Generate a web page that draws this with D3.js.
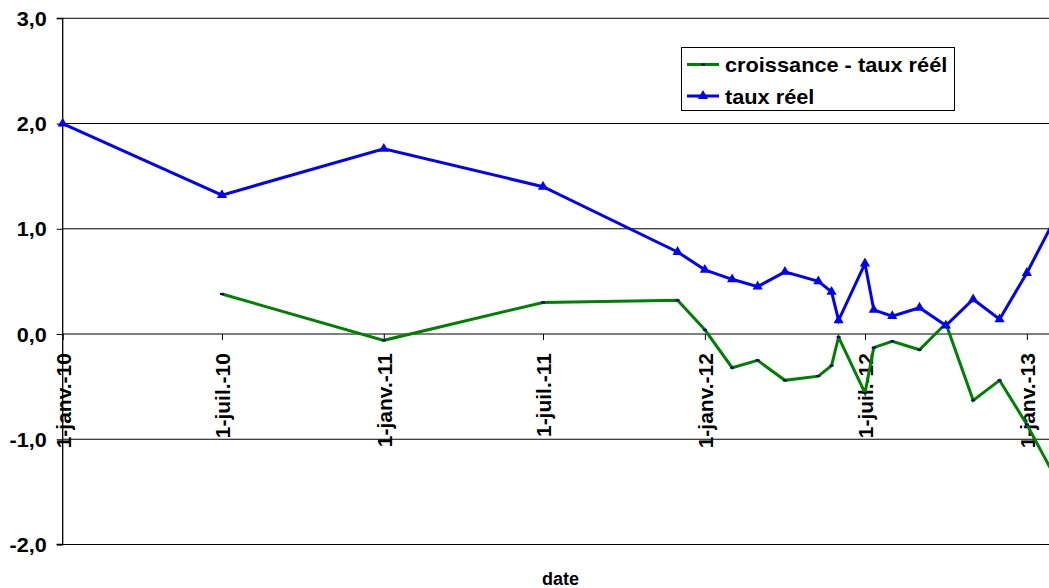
<!DOCTYPE html>
<html>
<head>
<meta charset="utf-8">
<script src="https://cdn.jsdelivr.net/npm/d3@7"></script>
<style>
  html, body { margin: 0; padding: 0; background: #fff; }
  svg { display: block; font-family: Arial, "Liberation Sans", sans-serif; }
</style>
</head>
<body>
<svg id="chart" width="1049" height="588"></svg>
<script>
// ---- data ----
const reelDates = ["2010-01-01","2010-07-01","2011-01-01","2011-07-01","2011-12-01","2012-01-01","2012-02-01","2012-03-01","2012-04-01","2012-05-09","2012-05-24","2012-06-01","2012-07-01","2012-07-11","2012-08-01","2012-09-01","2012-10-01","2012-11-01","2012-12-01","2013-01-01","2013-02-01"];
const reelValues = [2.00, 1.32, 1.76, 1.40, 0.78, 0.61, 0.52, 0.45, 0.59, 0.50, 0.40, 0.13, 0.67, 0.23, 0.17, 0.25, 0.08, 0.33, 0.14, 0.58, 1.08];

const croissDates = ["2010-07-01","2011-01-01","2011-07-01","2011-12-01","2012-01-01","2012-02-01","2012-03-01","2012-04-01","2012-05-09","2012-05-24","2012-06-01","2012-07-01","2012-07-11","2012-08-01","2012-09-01","2012-10-01","2012-11-01","2012-12-01","2013-01-01","2013-02-01"];
const croissValues = [0.38, -0.06, 0.30, 0.32, 0.04, -0.32, -0.25, -0.44, -0.40, -0.30, -0.03, -0.56, -0.13, -0.07, -0.15, 0.10, -0.63, -0.44, -0.86, -1.34];

const xTickDates = ["2010-01-01","2010-07-01","2011-01-01","2011-07-01","2012-01-01","2012-07-01","2013-01-01"];
const xTickLabels = ["1-janv.-10","1-juil.-10","1-janv.-11","1-juil.-11","1-janv.-12","1-juil.-12","1-janv.-13"];
const yTicks = [-2, -1, 0, 1, 2, 3];
const yTickLabels = ["-2,0","-1,0","0,0","1,0","2,0","3,0"];
const seriesNames = ["croissance - taux réél", "taux réel"];
const xDomain = ["2010-01-01", "2013-02-06"];

// ---- setup ----
const parse = d3.utcParse("%Y-%m-%d");
const svg = d3.select("#chart");
const mLeft = 62.7, mRight = 1058.5, mTop = 18.3, mBottom = 544.5;

const x = d3.scaleUtc().domain(xDomain.map(parse)).range([mLeft, mRight]);
const y = d3.scaleLinear().domain([-2, 3]).range([mBottom, mTop]);

const reel = reelDates.map((d, i) => ({ date: parse(d), v: reelValues[i] }));
const croiss = croissDates.map((d, i) => ({ date: parse(d), v: croissValues[i] }));

// gridlines
svg.append("g").selectAll("line").data(yTicks).join("line")
  .attr("x1", mLeft).attr("x2", mRight)
  .attr("y1", d => y(d)).attr("y2", d => y(d))
  .attr("stroke", "#000").attr("stroke-width", 1);

// y axis
const yAxis = d3.axisLeft(y).tickValues(yTicks).tickSize(6)
  .tickFormat((d, i) => yTickLabels[i]);
const gy = svg.append("g").attr("transform", `translate(${mLeft},0)`).call(yAxis);
gy.select(".domain").attr("stroke", "#000").attr("stroke-width", 1.3).attr("d", `M-6,${mTop}H0V${mBottom}H-6`);
gy.selectAll(".tick line").attr("stroke", "#000");
gy.selectAll(".tick text")
  .attr("x", -16).attr("dy", "0.36em")
  .attr("font-size", 20).attr("font-weight", "bold").attr("fill", "#000")
  .attr("font-family", "Arial, 'Liberation Sans', sans-serif")
  .each(function () {
    const w = this.getComputedTextLength();
    d3.select(this).attr("textLength", w * 1.08).attr("lengthAdjust", "spacingAndGlyphs");
  });

// x axis at y=0
const xAxis = d3.axisBottom(x).tickValues(xTickDates.map(parse)).tickSize(6)
  .tickFormat((d, i) => xTickLabels[i]);
const gx = svg.append("g").attr("transform", `translate(0,${y(0)})`).call(xAxis);
gx.select(".domain").remove();
gx.selectAll(".tick line").attr("stroke", "#000");
gx.selectAll(".tick text")
  .attr("transform", "rotate(-90)")
  .attr("text-anchor", "end")
  .attr("x", -19).attr("y", 0).attr("dy", "0.36em")
  .attr("font-size", 21).attr("font-weight", "bold").attr("fill", "#000")
  .attr("font-family", "Arial, 'Liberation Sans', sans-serif");

// axis title
svg.append("text").attr("x", (mLeft + mRight) / 2).attr("y", 585)
  .attr("text-anchor", "middle").attr("font-size", 18).attr("font-weight", "bold")
  .text("date");

// lines
const line = d3.line().x(d => x(d.date)).y(d => y(d.v));
svg.append("path").datum(croiss).attr("d", line)
  .attr("fill", "none").attr("stroke", "#008000").attr("stroke-width", 3).attr("stroke-linejoin", "miter");
svg.append("g").selectAll("rect").data(croiss).join("rect")
  .attr("x", d => x(d.date) - 2).attr("y", d => y(d.v) - 1)
  .attr("width", 4).attr("height", 2).attr("fill", "#000080");

svg.append("path").datum(reel).attr("d", line)
  .attr("fill", "none").attr("stroke", "#0000FF").attr("stroke-width", 3).attr("stroke-linejoin", "miter");
const tri = d3.symbol().type(d3.symbolTriangle).size(45);
svg.append("g").selectAll("path").data(reel).join("path")
  .attr("transform", d => `translate(${x(d.date)},${y(d.v)})`)
  .attr("d", tri).attr("fill", "#0000FF");

// legend
const lg = svg.append("g");
lg.append("rect").attr("x", 681.5).attr("y", 47.5).attr("width", 273).attr("height", 63)
  .attr("fill", "#fff").attr("stroke", "#000").attr("stroke-width", 1);
const rows = [
  { name: seriesNames[0], color: "#008000", yy: 64.5, marker: "dash" },
  { name: seriesNames[1], color: "#0000FF", yy: 96, marker: "tri" }
];
rows.forEach(r => {
  lg.append("line").attr("x1", 687).attr("x2", 719).attr("y1", r.yy).attr("y2", r.yy)
    .attr("stroke", r.color).attr("stroke-width", 3);
  if (r.marker === "dash") {
    lg.append("rect").attr("x", 701).attr("y", r.yy - 1).attr("width", 4).attr("height", 2).attr("fill", "#000080");
  } else {
    lg.append("path").attr("transform", `translate(703,${r.yy})`).attr("d", tri).attr("fill", "#0000FF");
  }
  const t = lg.append("text").attr("x", 725).attr("y", r.yy + 7.5)
    .attr("font-size", 21).attr("font-weight", "bold").attr("fill", "#000")
    .text(r.name);
  const w = t.node().getComputedTextLength();
  t.attr("textLength", w * 1.035).attr("lengthAdjust", "spacingAndGlyphs");
});
</script>
</body>
</html>
